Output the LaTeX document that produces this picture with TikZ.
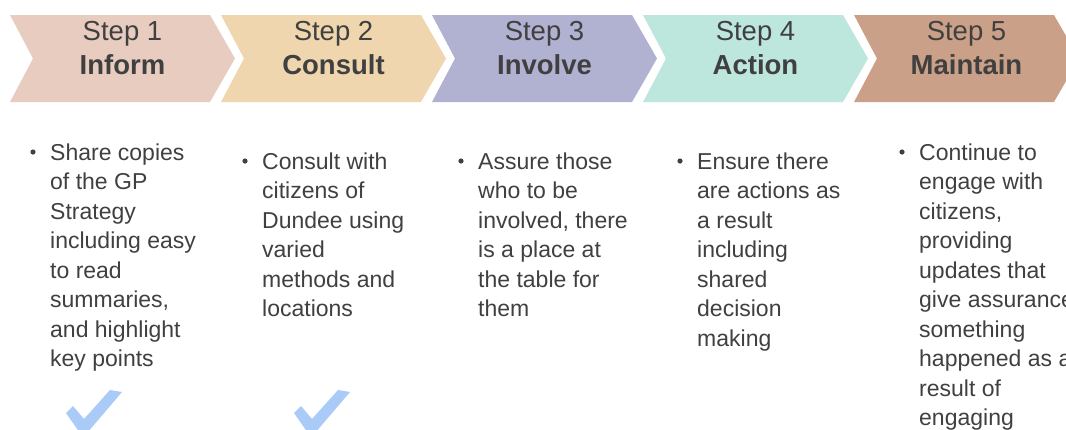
\documentclass[tikz,border=0pt]{standalone}
\usepackage{fontspec}
\setmainfont{Liberation Sans}
\definecolor{txt}{HTML}{404040}
\definecolor{cA}{HTML}{E8CCC0}
\definecolor{cB}{HTML}{F0D6AE}
\definecolor{cC}{HTML}{B1B1D1}
\definecolor{cD}{HTML}{BDE6DC}
\definecolor{cE}{HTML}{CBA088}
\definecolor{tick}{HTML}{AACAF8}
\tikzset{
  steptitle/.style={text=txt, inner sep=0pt, anchor=base, font=\fontsize{27.5}{32}\selectfont},
  bodytext/.style={text=txt, inner sep=0pt, anchor=base west},
  dotmark/.style={fill=txt, draw=none},
  tickmark/.style={fill=tick, draw=none},
}
\newcommand{\chev}[2]{%
  \fill[#2] (#1,15) -- ++(200,0) -- ++(25,43.5) -- ++(-25,43.5) -- ++(-200,0) -- ++(23,-43.5) -- cycle;}
\newcommand{\bodybox}[1]{\parbox[t]{200pt}{\fontsize{23}{29.5}\selectfont\raggedright #1}}
\begin{document}
\begin{tikzpicture}[x=1pt,y=-1pt]
\useasboundingbox (0,0) rectangle (1066,429);
\clip (0,0) rectangle (1066,429);
\fill[white] (0,0) rectangle (1066,429);
% chevrons
\chev{10}{cA}
\chev{221}{cB}
\chev{432}{cC}
\chev{643}{cD}
\chev{854}{cE}
% titles
\node[steptitle] (s1a) at (122.5,40.5) {Step 1};
\node[steptitle] (s1b) at (122.5,74) {\bfseries Inform};
\node[steptitle] (s2a) at (333.5,40.5) {Step 2};
\node[steptitle] (s2b) at (333.5,74) {\bfseries Consult};
\node[steptitle] (s3a) at (544.5,40.5) {Step 3};
\node[steptitle] (s3b) at (544.5,74) {\bfseries Involve};
\node[steptitle] (s4a) at (755.5,40.5) {Step 4};
\node[steptitle] (s4b) at (755.5,74) {\bfseries Action};
\node[steptitle] (s5a) at (966.5,40.5) {Step 5};
\node[steptitle] (s5b) at (966.5,74) {\bfseries Maintain};
% bullets
\fill[dotmark] (33,152) circle (2.6);
\fill[dotmark] (245,161) circle (2.6);
\fill[dotmark] (461,161) circle (2.6);
\fill[dotmark] (680,161) circle (2.6);
\fill[dotmark] (902,152) circle (2.6);
% body texts
\node[bodytext] (b1) at (50,160) {\bodybox{Share copies\\of the GP\\Strategy\\including easy\\to read\\summaries,\\and highlight\\key points}};
\node[bodytext] (b2) at (262,169) {\bodybox{Consult with\\citizens of\\Dundee using\\varied\\methods and\\locations}};
\node[bodytext] (b3) at (478,169) {\bodybox{Assure those\\who to be\\involved, there\\is a place at\\the table for\\them}};
\node[bodytext] (b4) at (697,169) {\bodybox{Ensure there\\are actions as\\a result\\including\\shared\\decision\\making}};
\node[bodytext] (b5) at (919,160) {\bodybox{Continue to\\engage with\\citizens,\\providing\\updates that\\give assurance\\something\\happened as a\\result of\\engaging}};
% check marks
\fill[tickmark] (66,413) -- (73,406) -- (84,419) -- (110,390) -- (122,392) -- (87,433) -- (80,433) -- cycle;
\fill[tickmark] (294,413) -- (301,406) -- (312,419) -- (338,390) -- (350,392) -- (315,433) -- (308,433) -- cycle;
\end{tikzpicture}
\end{document}
